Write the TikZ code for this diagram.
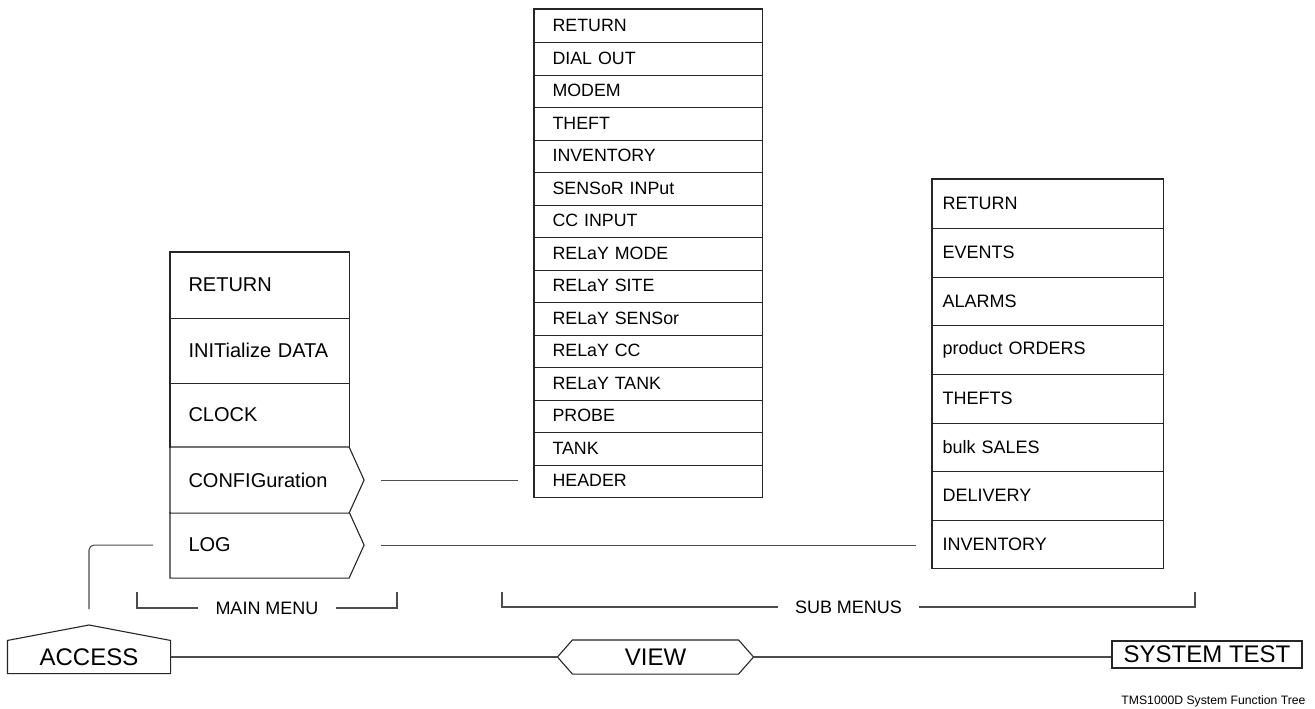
\documentclass[tikz,border=0pt]{standalone}
\usepackage{fontspec}
\setmainfont{Liberation Sans}
\begin{document}
\begin{tikzpicture}[x=1pt,y=-1pt,
  line width=1.1pt,
  boxline/.style={draw=black!85, line width=1.1pt},
  conn/.style={draw=black!70, line width=1.1pt},
  mrow/.style={rectangle, anchor=north west, minimum width=178pt, minimum height=65pt,
    text width=142pt, inner xsep=18pt, inner ysep=0pt, align=left, font=\fontsize{20}{24}\selectfont},
  sarow/.style={rectangle, anchor=north west, minimum width=227pt, minimum height=32.5pt,
    text width=191pt, inner xsep=18pt, inner ysep=0pt, align=left, font=\fontsize{17.8}{21}\selectfont},
  sbrow/.style={rectangle, anchor=north west, minimum width=230pt, minimum height=48.6pt,
    text width=210pt, inner xsep=10pt, inner ysep=0pt, align=left, font=\fontsize{18}{21}\selectfont},
  bigtext/.style={inner sep=0pt, font=\fontsize{24}{28}\selectfont},
  brlabel/.style={inner xsep=16.5pt, inner ysep=0pt, font=\fontsize{18}{21}\selectfont}
]
\useasboundingbox (0,0) rectangle (1315,709);

% main menu
\node[mrow] (mret) at (170,252) {RETURN};
\node[mrow] (minit) at (170,317) {INITialize DATA};
\node[mrow] (mclock) at (170,382) {CLOCK};
\node[mrow] (cfg) at (170,447) {CONFIGuration};
\node[mrow] (log) at (170,512) {LOG};
\draw[boxline] (mclock.south west) -- (mret.north west) -- (mret.north east) -- (mclock.south east);
\draw[boxline] (mret.south west) -- (mret.south east);
\draw[boxline] (minit.south west) -- (minit.south east);
\draw[boxline] (cfg.north west) -- (cfg.north east) -- ([xshift=15pt]cfg.east) -- (cfg.south east) -- (cfg.south west) -- cycle;
\draw[boxline] (log.north west) -- (log.south west) -- (log.south east) -- ([xshift=15pt]log.east) -- (log.north east);

% sub menu 1
\foreach \t [count=\i] in {RETURN, DIAL OUT, MODEM, THEFT, INVENTORY, SENSoR INPut, CC INPUT, RELaY MODE, RELaY SITE, RELaY SENSor, RELaY CC, RELaY TANK, PROBE, TANK, HEADER}
  \node[sarow] (s1-\i) at (534,{9+32.5*(\i-1)}) {\t};
\draw[boxline] (s1-1.north west) rectangle (s1-15.south east);
\foreach \i in {1,...,14}
  \draw[boxline] (s1-\i.south west) -- (s1-\i.south east);

% sub menu 2
\foreach \t [count=\i] in {RETURN, EVENTS, ALARMS, product ORDERS, THEFTS, bulk SALES, DELIVERY, INVENTORY}
  \node[sbrow] (s2-\i) at (932,{179+48.6*(\i-1)}) {\t};
\draw[boxline] (s2-1.north west) rectangle (s2-8.south east);
\foreach \i in {1,...,7}
  \draw[boxline] (s2-\i.south west) -- (s2-\i.south east);

% connectors from menu
\draw[conn, shorten <=32pt, shorten >=16pt] (cfg.east) -- (cfg.east -| s1-15.west);
\draw[conn, shorten <=32pt, shorten >=16pt] (log.east) -- (log.east -| s2-8.west);

% bottom row
\node[bigtext, minimum width=162pt, minimum height=32pt] (access) at (89,657) {ACCESS};
\coordinate (accpeak) at (89,625);
\draw[boxline] (access.south west) -- (access.north west) -- (accpeak) -- (access.north east) -- (access.south east) -- cycle;

\node[bigtext, minimum width=195pt, minimum height=33pt] (view) at (655.5,657) {VIEW};
\draw[boxline] (view.west) -- ([xshift=15pt]view.north west) -- ([xshift=-15pt]view.north east) -- (view.east) -- ([xshift=-15pt]view.south east) -- ([xshift=15pt]view.south west) -- cycle;

\node[bigtext, boxline, minimum width=190pt, minimum height=27pt] (sys) at (1207,654.5) {SYSTEM TEST};

\draw[conn] (access.east) -- (view.west);
\draw[conn] (view.east) -- (view.east -| sys.west);

\draw[conn, rounded corners=5pt, shorten <=17pt, shorten >=16pt] (log.west) -| (accpeak);

% brackets
\node[brlabel] (mmlabel) at (267,608) {MAIN MENU};
\draw[conn] (137,592) |- (mmlabel.west);
\draw[conn] (397,592) |- (mmlabel.east);
\node[brlabel] (smlabel) at (848.5,607) {SUB MENUS};
\draw[conn] (502,592) |- (smlabel.west);
\draw[conn] (1195,592) |- (smlabel.east);

% caption
\node[anchor=base east, inner sep=0pt, font=\fontsize{12.2}{14}\selectfont] (caption) at (1306,704) {TMS1000D System Function Tree};
\end{tikzpicture}
\end{document}
